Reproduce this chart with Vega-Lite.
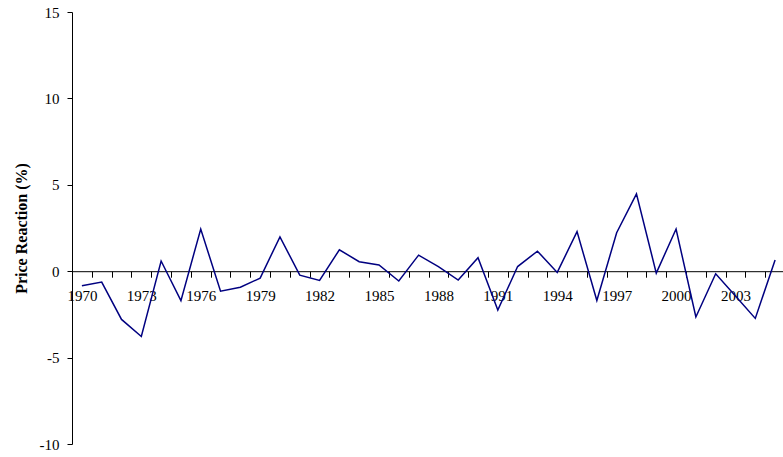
{
  "$schema": "https://vega.github.io/schema/vega-lite/v6.json",
  "autosize": {"type": "none"},
  "padding": {"left": 72, "top": 12, "right": 0, "bottom": 13},
  "width": 713,
  "height": 432,
  "background": "white",
  "config": {"view": {"stroke": null}, "font": "Liberation Serif"},
  "data": {"values": [
    {"year": 1970, "pr": -0.84}, {"year": 1971, "pr": -0.63}, {"year": 1972, "pr": -2.79},
    {"year": 1973, "pr": -3.78}, {"year": 1974, "pr": 0.59}, {"year": 1975, "pr": -1.70},
    {"year": 1976, "pr": 2.44}, {"year": 1977, "pr": -1.16}, {"year": 1978, "pr": -0.93},
    {"year": 1979, "pr": -0.40}, {"year": 1980, "pr": 1.99}, {"year": 1981, "pr": -0.23},
    {"year": 1982, "pr": -0.53}, {"year": 1983, "pr": 1.24}, {"year": 1984, "pr": 0.55},
    {"year": 1985, "pr": 0.36}, {"year": 1986, "pr": -0.57}, {"year": 1987, "pr": 0.93},
    {"year": 1988, "pr": 0.27}, {"year": 1989, "pr": -0.51}, {"year": 1990, "pr": 0.78},
    {"year": 1991, "pr": -2.25}, {"year": 1992, "pr": 0.27}, {"year": 1993, "pr": 1.16},
    {"year": 1994, "pr": -0.07}, {"year": 1995, "pr": 2.29}, {"year": 1996, "pr": -1.70},
    {"year": 1997, "pr": 2.23}, {"year": 1998, "pr": 4.48}, {"year": 1999, "pr": -0.11},
    {"year": 2000, "pr": 2.44}, {"year": 2001, "pr": -2.65}, {"year": 2002, "pr": -0.15},
    {"year": 2003, "pr": -1.43}, {"year": 2004, "pr": -2.73}, {"year": 2005, "pr": 0.65}
  ]},
  "resolve": {"axis": {"x": "independent", "y": "independent"}},
  "layer": [
    {
      "mark": {"type": "line", "color": "#000080", "strokeWidth": 1.5},
      "encoding": {
        "x": {"field": "year", "type": "quantitative",
          "scale": {"domain": [1969.5, 2005.5], "nice": false, "zero": false},
          "axis": {"orient": "bottom", "offset": -172.8, "labels": false, "title": null, "grid": false,
            "values": [1969.5,1970.5,1971.5,1972.5,1973.5,1974.5,1975.5,1976.5,1977.5,1978.5,1979.5,1980.5,1981.5,1982.5,1983.5,1984.5,1985.5,1986.5,1987.5,1988.5,1989.5,1990.5,1991.5,1992.5,1993.5,1994.5,1995.5,1996.5,1997.5,1998.5,1999.5,2000.5,2001.5,2002.5,2003.5,2004.5,2005.5],
            "tickSize": 6, "tickColor": "black", "domainColor": "black", "tickWidth": 1, "domainWidth": 1}},
        "y": {"field": "pr", "type": "quantitative",
          "scale": {"domain": [-10, 15], "nice": false},
          "axis": {"title": "Price Reaction (%)", "values": [-10,-5,0,5,10,15], "grid": false,
            "labelExpr": "'' + datum.value",
            "tickSize": 5, "tickColor": "black", "domainColor": "black", "labelPadding": 8,
            "labelFont": "Liberation Serif", "labelFontSize": 15, "labelColor": "black",
            "titleFont": "Liberation Serif", "titleFontSize": 16, "titleFontWeight": "bold", "titleColor": "black",
            "titlePadding": 10}}
      }
    },
    {
      "mark": {"type": "point", "opacity": 0},
      "encoding": {
        "x": {"field": "year", "type": "quantitative",
          "axis": {"orient": "bottom", "offset": -172.8, "title": null, "grid": false, "ticks": false, "domain": false,
            "values": [1970,1973,1976,1979,1982,1985,1988,1991,1994,1997,2000,2003],
            "format": "d", "labelPadding": 17, "labelFont": "Liberation Serif", "labelFontSize": 15, "labelColor": "black",
            "labelBaseline": "top"}},
        "y": {"field": "pr", "type": "quantitative", "axis": null}
      }
    }
  ]
}
